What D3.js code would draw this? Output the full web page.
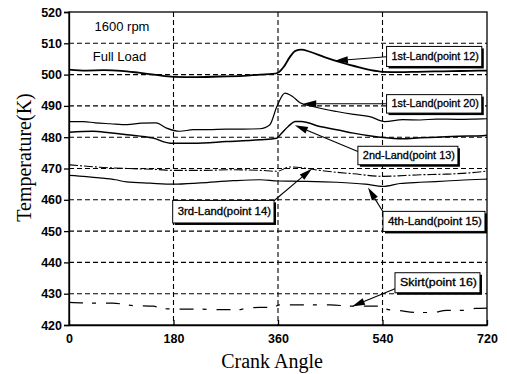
<!DOCTYPE html>
<html><head><meta charset="utf-8">
<script src="https://cdn.jsdelivr.net/npm/d3@7"></script>
<style>body{margin:0;background:#fff}</style>
</head><body>
<svg id="c" width="507" height="374"></svg>
<script>
// ---- data ----
const xTicks = [0, 180, 360, 540, 720];
const yTicks = [420, 430, 440, 450, 460, 470, 480, 490, 500, 510, 520];

const angles12 = [0,30,60,90,120,150,180,220,260,300,330,350,360,370,380,390,400,415,440,470,500,520,540,570,600,630,660,690,720];
const temps12  = [501.6,501.3,501.4,501.2,500.6,499.9,499.3,499.2,499.4,499.6,500.0,500.2,500.6,502.5,505.5,507.6,508.0,507.3,505.6,503.8,502.3,501.4,500.9,500.8,500.9,501.0,501.1,501.2,501.3];

const angles20 = [0,25,45,71,100,125,150,168,191,214,240,271,300,329,346,358,372,385,398,420,461,490,518,544,575,605,633,670,700,720];
const temps20  = [485.0,485.0,484.6,484.3,484.0,484.5,484.6,482.9,481.9,482.4,482.4,482.6,482.6,482.7,484.0,489.8,494.1,493.0,491.0,489.8,488.2,487.3,486.6,485.0,485.6,485.5,485.8,485.7,485.8,485.9];

const angles13 = [0,41,70,100,145,174,214,271,329,358,365,378,390,400,432,461,490,520,541,575,605,633,670,713,720];
const temps13  = [481.6,481.9,481.4,480.8,479.7,478.1,478.1,478.6,479.2,479.7,481.0,483.5,485.0,485.0,483.4,482.4,481.3,480.4,479.9,479.5,479.8,480.0,480.3,480.5,480.6];

const angles14 = [0,53,100,150,180,230,283,330,358,381,403,432,490,541,605,650,690,720];
const temps14  = [471.2,470.4,470.0,469.7,469.4,469.4,469.6,469.4,469.1,470.5,470.2,469.4,468.3,467.5,468.0,468.2,468.6,469.2];

const angles15 = [0,30,53,80,99,140,180,226,283,329,360,400,461,510,541,570,605,650,690,720];
const temps15  = [467.8,467.4,467.0,466.4,465.7,465.3,465.0,465.4,466.1,466.4,466.0,465.9,465.6,465.0,464.3,465.2,465.6,466.0,466.4,466.6];

const angles16 = [0,40,75,110,145,160,180,220,260,295,306,352,363,400,450,490,535,550,565,600,627,650,680,700,720];
const temps16  = [427.2,427.0,427.0,426.2,426.0,425.3,425.1,425.1,424.9,424.9,425.5,425.7,426.4,426.4,426.4,426.0,426.0,424.9,424.7,424.0,424.0,424.7,424.7,425.3,425.4];

const seriesNames = ["1st-Land(point 12)","1st-Land(point 20)","2nd-Land(point 13)","3rd-Land(point 14)","4th-Land(point 15)","Skirt(point 16)"];

// label boxes [angle0, angle1, tempTop, tempBottom], arrow from [angle,temp] to tip [angle,temp]
const boxAngles = [[547,711],[547,711],[497.6,669.9],[178.6,353.1],[540.8,716.5],[561.5,707.9]];
const boxTemps  = [[509.0,502.6],[493.6,487.7],[477.1,471.2],[459.8,452.6],[456.3,449.9],[436.7,430.3]];
const arrowFrom = [[547,505.7],[547,490.7],[497.6,475.4],[353.1,459.7],[540.8,456.2],[561.5,431.6]];
const arrowTip  = [[458,504.4],[403.5,490.7],[389,483.8],[418.5,469.9],[515,463.9],[487.4,425.9]];

const notes = ["1600 rpm", "Full Load"];
const noteAngles = [44, 41];
const noteTemps = [514, 504.5];

// ---- drawing ----
const svg = d3.select("#c");
const m = {l:69, t:12, r:487, b:325};
const x = d3.scaleLinear().domain([0,720]).range([m.l, m.r]);
const y = d3.scaleLinear().domain([420,520]).range([m.b, m.t]);

// grid
const g = svg.append("g");
g.selectAll(".hg").data(yTicks.filter(v=>v>420 && v<520)).join("line")
  .attr("x1", m.l).attr("x2", m.r).attr("y1", d=>y(d)).attr("y2", d=>y(d))
  .attr("stroke","#000").attr("stroke-width",1.1).attr("stroke-dasharray","5,3");
g.selectAll(".vg").data(xTicks.filter(v=>v>0 && v<720)).join("line")
  .attr("y1", m.t).attr("y2", m.b).attr("x1", d=>x(d)).attr("x2", d=>x(d))
  .attr("stroke","#000").attr("stroke-width",1.1).attr("stroke-dasharray","5,3");

// frame
svg.append("rect").attr("x",m.l).attr("y",m.t).attr("width",m.r-m.l).attr("height",m.b-m.t)
  .attr("fill","none").attr("stroke","#000").attr("stroke-width",1.3);

// axes
const ya = svg.append("g").attr("transform",`translate(${m.l},0)`)
  .call(d3.axisLeft(y).tickValues(yTicks).tickFormat(d3.format("d")).tickSize(5).tickPadding(2));
const xa = svg.append("g").attr("transform",`translate(0,${m.b})`)
  .call(d3.axisBottom(x).tickValues(xTicks).tickFormat(d3.format("d")).tickSizeInner(-5).tickSizeOuter(0).tickPadding(9));
[ya,xa].forEach(a=>{
  a.select(".domain").attr("stroke","#000").attr("stroke-width",1.3);
  a.selectAll(".tick line").attr("stroke","#000").attr("stroke-width",1.3);
  a.selectAll("text").attr("font-family","Liberation Sans, Arial, sans-serif")
    .attr("font-size",12.5).attr("font-weight","bold").attr("fill","#000");
});

// titles
svg.append("text").attr("x", x(360)-6).attr("y", 368)
  .attr("text-anchor","middle").attr("font-family","Liberation Serif, Times New Roman, serif")
  .attr("font-size",20).text("Crank Angle");
svg.append("text").attr("transform",`translate(31,${y(470)-11}) rotate(-90)`)
  .attr("text-anchor","middle").attr("font-family","Liberation Serif, Times New Roman, serif")
  .attr("font-size",20).text("Temperature(K)");

// notes
svg.selectAll(".note").data(notes).join("text")
  .attr("x",(d,i)=>x(noteAngles[i])).attr("y",(d,i)=>y(noteTemps[i]))
  .attr("font-family","Liberation Sans, Arial, sans-serif").attr("font-size",13).text(d=>d);

// lines
const line = d3.line().x(d=>x(d[0])).y(d=>y(d[1])).curve(d3.curveMonotoneX);
const series = [
  {a:angles12,t:temps12,w:1.8,dash:null},
  {a:angles20,t:temps20,w:1.2,dash:null},
  {a:angles13,t:temps13,w:1.5,dash:null},
  {a:angles14,t:temps14,w:1.1,dash:"9,2,2,2"},
  {a:angles15,t:temps15,w:1.2,dash:null},
  {a:angles16,t:temps16,w:1.2,dash:"14,9,4,10"}
];
series.forEach(s=>{
  svg.append("path").datum(s.a.map((a,i)=>[a,s.t[i]])).attr("d",line)
    .attr("fill","none").attr("stroke","#000").attr("stroke-width",s.w)
    .attr("stroke-dasharray",s.dash);
});

// annotations
seriesNames.forEach((name,i)=>{
  const x0=x(boxAngles[i][0]), x1=x(boxAngles[i][1]);
  const y0=y(boxTemps[i][0]), y1=y(boxTemps[i][1]);
  const fx=x(arrowFrom[i][0]), fy=y(arrowFrom[i][1]);
  const tx=x(arrowTip[i][0]), ty=y(arrowTip[i][1]);
  // arrow
  const dx=tx-fx, dy=ty-fy, L=Math.hypot(dx,dy), ux=dx/L, uy=dy/L;
  const hl=13, hw=3.5;
  const bx=tx-ux*hl, by=ty-uy*hl;
  svg.append("line").attr("x1",fx).attr("y1",fy).attr("x2",bx).attr("y2",by)
    .attr("stroke","#000").attr("stroke-width",1.1);
  svg.append("path").attr("d",`M${tx},${ty}L${bx-uy*hw},${by+ux*hw}L${bx+uy*hw},${by-ux*hw}Z`).attr("fill","#000");
  // shadow + box
  svg.append("rect").attr("x",x0+2).attr("y",y0+2).attr("width",x1-x0).attr("height",y1-y0).attr("fill","#000");
  svg.append("rect").attr("x",x0).attr("y",y0).attr("width",x1-x0).attr("height",y1-y0)
    .attr("fill","#fff").attr("stroke","#000").attr("stroke-width",1);
  svg.append("text").attr("x",(x0+x1)/2+1).attr("y",(y0+y1)/2+3.5).attr("text-anchor","middle")
    .attr("font-family","Liberation Sans, Arial, sans-serif").attr("font-size",10)
    .attr("stroke","#000").attr("stroke-width",0.3)
    .attr("textLength",(x1-x0)-8).attr("lengthAdjust","spacingAndGlyphs").text(name);
});
</script>
</body></html>
